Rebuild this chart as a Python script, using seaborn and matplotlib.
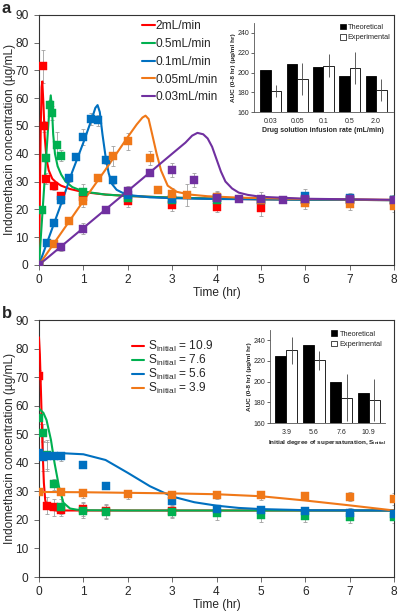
import pandas as pd
import matplotlib
matplotlib.use('Agg')
import matplotlib.pyplot as plt
import seaborn as sns
from matplotlib.patches import Patch

# ---- panel a: infusion rates ----
rates_a = ['2mL/min', '0.5mL/min', '0.1mL/min', '0.05mL/min', '0.03mL/min']
colors_a = ['#ff0000', '#00b050', '#0070c0', '#f07818', '#7030a0']

curve_t_a = [
    [0, 0.02, 0.04, 0.06, 0.075, 0.1, 0.13, 0.17, 0.22, 0.3, 0.4, 0.5, 0.7, 1, 1.5, 2, 3, 4, 5, 6, 8],
    [0, 0.05, 0.1, 0.15, 0.2, 0.24, 0.265, 0.29, 0.32, 0.36, 0.42, 0.5, 0.6, 0.75, 1, 1.5, 2, 3, 4, 6, 8],
    [0, 0.25, 0.5, 0.75, 1.0, 1.1, 1.2, 1.27, 1.32, 1.37, 1.43, 1.5, 1.57, 1.65, 1.75, 1.9, 2.1, 2.5, 3, 4, 6, 8],
    [0, 0.5, 1, 1.5, 2, 2.2, 2.33, 2.4, 2.47, 2.55, 2.65, 2.75, 2.9, 3.1, 3.4, 3.8, 4.5, 6, 8],
    [0, 1, 2, 3, 3.3, 3.45, 3.57, 3.7, 3.8, 3.9, 4.0, 4.1, 4.2, 4.35, 4.5, 4.7, 5, 6, 8],
]
curve_c_a = [
    [0, 25, 50, 64, 66, 58, 46, 38, 34, 31, 29.5, 28.5, 27.3, 26.2, 25.3, 24.8, 24.2, 23.8, 23.6, 23.5, 23.3],
    [0, 12, 24, 36, 48, 57, 61, 57, 47, 40, 35.5, 32.5, 30, 28, 26.4, 25.3, 24.8, 24.2, 23.8, 23.5, 23.3],
    [0, 11, 22, 33.5, 44, 48.5, 53, 56.5, 57.5, 55, 47, 39, 33, 29, 27, 25.8, 25, 24.3, 24, 23.7, 23.5, 23.3],
    [0, 11.5, 23, 34.3, 46, 50.5, 53, 53.7, 52.5, 47, 40, 34, 28.5, 26.3, 25.3, 24.7, 24.2, 23.7, 23.4],
    [0, 13.3, 26.6, 40, 44, 46.5, 47.5, 47, 45.5, 42.5, 38, 33.5, 30, 27.5, 26, 25.2, 24.5, 23.8, 23.4],
]
pt_t_a = [
    [0, 0.083, 0.12, 0.15, 0.33, 0.5, 1, 2, 3, 4, 5, 6, 7, 8],
    [0, 0.07, 0.16, 0.25, 0.3, 0.41, 0.5, 1, 2, 3, 4, 5, 6, 7, 8],
    [0, 0.17, 0.33, 0.5, 0.67, 0.83, 1, 1.17, 1.33, 1.5, 1.67, 2, 3, 4, 5, 6, 7, 8],
    [0, 0.33, 0.67, 1, 1.33, 1.67, 2, 2.5, 2.67, 3, 3.33, 4, 5, 6, 7, 8],
    [0, 0.5, 1, 1.5, 2, 2.5, 3, 3.5, 4, 4.5, 5, 5.5, 6, 7, 8],
]
pt_c_a = [
    [0, 71.5, 49.8, 31, 28.5, 24.8, 24.5, 23, 21.5, 21, 20.6, 23.5, 23.3, 23],
    [0, 19.8, 38.5, 57.5, 54.8, 43.2, 39.3, 26.2, 24, 23.5, 23.5, 23.2, 23.5, 23.3, 23.2],
    [0, 8, 15.2, 23.4, 31.2, 39, 46, 52.5, 52, 37.7, 30.5, 25, 23.6, 24, 23.5, 24.8, 24, 23.5],
    [0, 7.5, 15.7, 23, 31.2, 39.2, 44.5, 38.6, 27, 25.6, 25.2, 24.5, 23.3, 22.2, 21.8, 21.2],
    [0, 6.5, 13, 19.6, 26.5, 33, 34.2, 30.6, 24.2, 23.6, 23.6, 23.5, 23.8, 23.8, 23.4],
]
pt_e_a = [
    [0, 6, 2, 2, 1.5, 1.5, 2, 2, 2, 2, 3, 1.5, 1.5, 1.5],
    [0, 1, 1.5, 2, 2.5, 4.5, 2, 3, 1.5, 1.5, 1.5, 2, 1.5, 1.5, 1.5],
    [0, 1, 1, 1.5, 1.5, 1, 3, 2, 2, 1.5, 1.5, 1.5, 1.5, 2, 1.5, 2.5, 2, 1.5],
    [0, 1, 1, 2, 1, 3.5, 3, 2.5, 1, 2, 4, 2, 2, 2, 2, 2],
    [0, 1.5, 2, 1, 2, 1, 2.5, 2.5, 2, 1, 2.5, 1, 2, 1.5, 1.5],
]

# ---- panel b: initial supersaturation ----
labels_b = [r'S$_{\mathregular{initial}}$ = 10.9', r'S$_{\mathregular{initial}}$ = 7.6',
            r'S$_{\mathregular{initial}}$ = 5.6', r'S$_{\mathregular{initial}}$ = 3.9']
colors_b = ['#ff0000', '#00b050', '#0070c0', '#f07818']

curve_t_b = [
    [0, 0.02, 0.05, 0.08, 0.11, 0.14, 0.18, 0.25, 0.4, 1, 3, 8],
    [0, 0.1, 0.17, 0.27, 0.35, 0.45, 0.55, 0.7, 0.85, 1, 2, 8],
    [0, 0.5, 1, 1.5, 2, 2.5, 3, 3.5, 4, 4.5, 5, 6, 8],
    [0, 1, 2, 3, 4, 5, 6, 7, 8],
]
curve_c_b = [
    [84, 78, 62, 45, 33, 27, 24.5, 23.6, 23.3, 23.3, 23.3, 23.3],
    [59, 57.5, 55, 48, 40, 31.7, 26, 24, 23.6, 23.4, 23.3, 23.3],
    [43.5, 43.4, 43, 41, 36.5, 31.8, 28.2, 26.2, 25, 24.2, 23.8, 23.4, 23.3],
    [29.8, 29.7, 29.5, 29.3, 29, 28.3, 26.8, 25.1, 23.3],
]
pt_t_b = [
    [0, 0.17, 0.33, 0.5, 1, 1.5, 3],
    [0, 0.083, 0.17, 0.33, 0.5, 1, 1.5, 3, 4, 5, 6, 7, 8],
    [0, 0.083, 0.17, 0.33, 0.5, 1, 1.5, 3, 4, 5, 6, 7, 8],
    [0, 0.5, 1, 2, 3, 4, 5, 6, 7, 8],
]
pt_c_b = [
    [70.5, 25, 24.5, 23.4, 23.8, 23.2, 23],
    [55.6, 50.6, 42.9, 32.5, 24.7, 23.3, 22.9, 22.7, 22.4, 21.8, 21.2, 21, 21],
    [43.4, 42.2, 42.3, 42.3, 42.3, 39.1, 31.8, 26.6, 23.8, 23.5, 23, 22.6, 22.1],
    [29.7, 29.7, 29.3, 29, 28.7, 28.8, 28.6, 28.4, 28.2, 27.4],
]
pt_e_b = [
    [2, 3, 3, 2, 2.5, 2.5, 2],
    [2, 3, 5, 2, 2.5, 2.5, 2.5, 2, 2.5, 2.5, 2, 2, 2],
    [1, 5, 5, 1, 1.5, 1, 0.5, 1.5, 1.5, 1.5, 1.5, 1.5, 1.5],
    [1, 1, 1.5, 1.5, 1.5, 1.5, 1.5, 1.5, 1.5, 2],
]

# ---- insets (AUC) ----
ins_a_cats = ['0.03', '0.05', '0.1', '0.5', '2.0']
ins_a_theo = [202.5, 208.5, 206, 197, 197]
ins_a_exp = [181.5, 193.5, 207, 204.5, 182.5]
ins_a_err = [6, 16.5, 12, 16, 11]

ins_b_cats = ['3.9', '5.6', '7.6', '10.9']
ins_b_theo = [225, 235.5, 199.5, 189.5]
ins_b_exp = [230.5, 220.5, 184.5, 182.5]
ins_b_err = [13, 9.5, 23, 20.5]

FS = 8.6

sns.set_style('ticks')
plt.rcParams['font.family'] = ['Liberation Sans', 'DejaVu Sans']
plt.rcParams['mathtext.fontset'] = 'custom'
plt.rcParams['mathtext.rm'] = 'Liberation Sans'

fig = plt.figure(figsize=(3.99, 6.16), dpi=100)
ax_a = fig.add_axes([0.0977, 0.570, 0.890, 0.406])
ax_b = fig.add_axes([0.0977, 0.0633, 0.890, 0.417])


def draw_main(ax, labels, colors, ct, cc, pt, pc, pe):
    for i in range(len(labels)):
        ax.errorbar(pt[i], pc[i], yerr=pe[i], fmt='none', ecolor='#a0a0a0',
                    elinewidth=0.6, capsize=1.3, capthick=0.6, zorder=2)
        sns.lineplot(x=ct[i], y=cc[i], color=colors[i], lw=1.5, sort=False,
                     estimator=None, label=labels[i], ax=ax, zorder=3)
        sns.scatterplot(x=pt[i], y=pc[i], color=colors[i], marker='s', s=26,
                        edgecolor=colors[i], linewidth=0.3, legend=False, ax=ax, zorder=4)
    ax.set_xlim(0, 8)
    ax.set_ylim(0, 90)
    ax.set_xticks(range(0, 9))
    ax.set_yticks(range(0, 91, 10))
    ax.tick_params(labelsize=FS, length=3.5, width=0.6, color='#555555')
    ax.tick_params(axis='y', pad=4)
    ax.tick_params(axis='x', pad=3)
    for s in ax.spines.values():
        s.set_color('#333333')
        s.set_linewidth(0.8)
    ax.set_xlabel('Time (hr)', fontsize=FS, labelpad=1)
    ax.set_ylabel('Indomethacin concentration (µg/mL)', fontsize=FS)
    ax.yaxis.set_label_coords(-0.066, 0.5)


def draw_inset(rect, cats, theo, exp, err, xlabel, xfs):
    ins = fig.add_axes(rect)
    df = pd.DataFrame({'cat': cats * 2,
                       'auc': theo + exp,
                       'kind': ['Theoretical'] * len(cats) + ['Experimental'] * len(cats)})
    sns.barplot(data=df, x='cat', y='auc', hue='kind', palette=['black', 'white'],
                edgecolor='black', linewidth=0.6, width=0.8, legend=False, ax=ins)
    bars = ins.containers[1]
    xs = [p.get_x() + p.get_width() / 2 for p in bars]
    ins.errorbar(xs, exp, yerr=err, fmt='none', ecolor='#444444', elinewidth=0.6, capsize=0)
    ins.set_ylim(160, 250)
    ins.set_yticks(range(160, 241, 20))
    ins.set_facecolor('none')
    ins.spines['top'].set_visible(False)
    ins.spines['right'].set_visible(False)
    for s in ['left', 'bottom']:
        ins.spines[s].set_linewidth(0.6)
        ins.spines[s].set_color('#555555')
    ins.tick_params(labelsize=5, length=2, width=0.5, pad=1.5)
    ins.tick_params(axis='x', length=0, pad=4)
    ins.set_xlabel(xlabel, fontsize=xfs, fontweight='bold', labelpad=2)
    ins.set_ylabel('AUC (0-8 hr) (µg/ml hr)', fontsize=4.6, fontweight='bold', labelpad=1)
    handles = [Patch(facecolor='black', edgecolor='black', lw=0.5, label='Theoretical'),
               Patch(facecolor='white', edgecolor='black', lw=0.5, label='Experimental')]
    ins.legend(handles=handles, loc='upper right', bbox_to_anchor=(1.02, 1.05), frameon=False,
               fontsize=5.3, handlelength=0.8, handleheight=0.8, handletextpad=0.3,
               labelspacing=0.4, borderpad=0.2)
    return ins


draw_main(ax_a, rates_a, colors_a, curve_t_a, curve_c_a, pt_t_a, pt_c_a, pt_e_a)
ax_a.legend(loc='upper left', bbox_to_anchor=(0.262, 1.016), frameon=False, fontsize=FS,
            handlelength=1.1, handletextpad=0.05, labelspacing=0.48, borderpad=0.3)

draw_main(ax_b, labels_b, colors_b, curve_t_b, curve_c_b, pt_t_b, pt_c_b, pt_e_b)
ax_b.legend(loc='upper left', bbox_to_anchor=(0.235, 0.965), frameon=False, fontsize=FS,
            handlelength=1.0, handletextpad=0.3, labelspacing=-0.08, borderpad=0.3)

draw_inset([0.6366, 0.818, 0.348, 0.1445], ins_a_cats, ins_a_theo, ins_a_exp, ins_a_err,
           'Drug solution infusion rate (mL/min)', 5.0)
draw_inset([0.677, 0.3133, 0.288, 0.151], ins_b_cats, ins_b_theo, ins_b_exp, ins_b_err,
           r'Initial degree of supersaturation, S$_{\mathregular{initial}}$', 4.6)

fig.text(0.004, 0.998, 'a', fontsize=12, fontweight='bold', va='top')
fig.text(0.004, 0.503, 'b', fontsize=12, fontweight='bold', va='top')

fig.savefig('out.png', dpi=100)
